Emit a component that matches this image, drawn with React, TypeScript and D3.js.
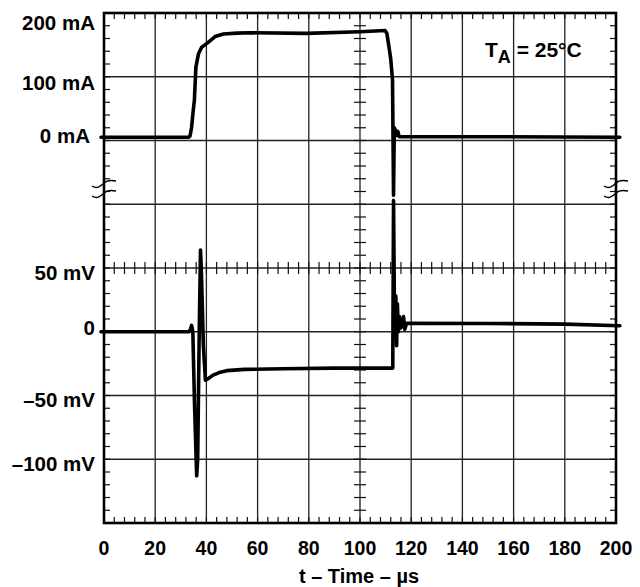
import React from "react";
import * as d3 from "d3";

// ---------- data ----------
const xTickValues = [0, 20, 40, 60, 80, 100, 120, 140, 160, 180, 200];
const currentTickValues = [200, 100, 0];
const currentTickLabels = ["200 mA", "100 mA", "0 mA"];
const voltageTickValues = [50, 0, -50, -100];
const voltageTickLabels = ["50 mV", "0", "\u201350 mV", "\u2013100 mV"];

const timeI = [-1.2, 33, 33.6, 34.2, 34.8, 35.3, 35.9, 36.9, 38.1, 40.7, 43.4, 46.6, 52, 57, 79, 100, 109.8, 110.5, 111.2, 112, 112.7, 113.1, 113.4, 113.9, 114.3, 114.8, 115.3, 150, 201.5];
const currentMA = [5, 5, 7, 20, 45, 63, 115, 136, 146, 154, 163, 167, 168.5, 169, 168, 170.5, 172.5, 168, 150, 128, 95, -86, 20, 16, 8, 14, 6, 6, 5];

const timeV = [-1.2, 33.2, 33.8, 34.2, 34.7, 35.4, 36.2, 36.6, 37.2, 37.7, 38.0, 38.8, 39.6, 40.5, 42.6, 45, 47.9, 55, 70, 90, 112.8, 113.1, 113.4, 113.7, 114.0, 114.3, 114.6, 115.0, 115.4, 116.0, 116.6, 117.0, 117.5, 118.2, 150, 180, 201.5];
const voltageMV = [0, 0, 2, 5, 0, -60, -113, -100, 0, 64, 50, -10, -38, -37, -34, -32, -30.5, -29.5, -29, -28.5, -28.5, 103, 30, -5, 28, -11, 22, 0, 12, 3, 5, 12, 2, 6.7, 6.5, 6, 4.7];

// ---------- layout ----------
const W = 640;
const H = 587;
const L = 104;
const R = 616;
const T = 13;
const B = 523;
const FONT = "'Liberation Sans', Arial, Helvetica, sans-serif";

export default function App() {
  const x = d3.scaleLinear().domain([0, 200]).range([L, R]);
  const yDiv = d3.scaleLinear().domain([0, 8]).range([B, T]);
  const yI = d3.scaleLinear().domain([-600, 200]).range([B, T]);
  const yV = d3.scaleLinear().domain([-150, 250]).range([B, T]);

  const lineI = d3
    .line<number>()
    .x((_, i) => x(timeI[i]))
    .y((d) => yI(d))
    .curve(d3.curveLinear);
  const lineV = d3
    .line<number>()
    .x((_, i) => x(timeV[i]))
    .y((d) => yV(d))
    .curve(d3.curveLinear);

  const gridX = xTickValues.slice(1, -1);
  const gridY = d3.range(1, 8);
  const minorX = d3.range(0, 200.01, 4).filter((v) => v > 0 && v < 200);
  const minorY = d3.range(1, 40).map((k) => k / 5);
  const tl = 6;
  const cy = yDiv(4);
  const cx = x(100);

  const tilde = (px: number, py: number) =>
    `M${px - 12},${py + 2} C${px - 7},${py + 5} ${px - 4},${py + 3} ${px},${py - 1} C${px + 3},${py - 4} ${px + 7},${py - 4} ${px + 12},${py - 3}`;

  const gridColor = "#222";

  return (
    <svg
      width={W}
      height={H}
      viewBox={`0 0 ${W} ${H}`}
      style={{ position: "absolute", left: 0, top: 0, background: "#fff" }}
    >
      <rect x={0} y={0} width={W} height={H} fill="#fff" />
      {/* grid */}
      {gridX.map((v) => (
        <line key={"gx" + v} x1={x(v)} x2={x(v)} y1={T} y2={B} stroke={gridColor} strokeWidth={1.3} />
      ))}
      {gridY.map((v) => (
        <line key={"gy" + v} x1={L} x2={R} y1={yDiv(v)} y2={yDiv(v)} stroke={gridColor} strokeWidth={1.3} />
      ))}
      {/* minor ticks along x */}
      {minorX.map((v) => (
        <g key={"mx" + v} stroke="#111" strokeWidth={1.2}>
          <line x1={x(v)} x2={x(v)} y1={T} y2={T + tl} />
          <line x1={x(v)} x2={x(v)} y1={B} y2={B - tl} />
          <line x1={x(v)} x2={x(v)} y1={cy - tl} y2={cy + tl} />
        </g>
      ))}
      {/* minor ticks along y */}
      {minorY.map((v) => (
        <g key={"my" + v} stroke="#111" strokeWidth={1.2}>
          <line x1={L} x2={L + tl} y1={yDiv(v)} y2={yDiv(v)} />
          <line x1={R} x2={R - tl} y1={yDiv(v)} y2={yDiv(v)} />
          <line x1={cx - tl} x2={cx + tl} y1={yDiv(v)} y2={yDiv(v)} />
        </g>
      ))}
      {/* frame */}
      <rect x={L} y={T} width={R - L} height={B - T} fill="none" stroke="#000" strokeWidth={2.6} />
      {/* break marks */}
      {[L, R].map((px) => (
        <g key={"br" + px} fill="none" stroke="#000" strokeWidth={1.4}>
          <path d={tilde(px, 184)} />
          <path d={tilde(px, 194)} />
        </g>
      ))}
      {/* traces */}
      <path d={lineI(currentMA) || ""} fill="none" stroke="#000" strokeWidth={3.6} strokeLinejoin="round" strokeLinecap="round" />
      <path d={lineV(voltageMV) || ""} fill="none" stroke="#000" strokeWidth={3.6} strokeLinejoin="round" strokeLinecap="round" />

      {/* y labels */}
      <g fontFamily={FONT} fontWeight="bold" fontSize={20.5} fill="#000" textAnchor="end">
        {currentTickValues.map((v, i) => {
          const off = v === 200 ? 9.5 : v === 0 ? -5.5 : 6;
          return (
            <text key={"yl" + v} x={v === 0 ? 90 : 95} y={yI(v) + off} dominantBaseline="central">
              {currentTickLabels[i]}
            </text>
          );
        })}
        {voltageTickValues.map((v, i) => {
          const off = v === 0 ? -4 : 4;
          return (
            <text key={"vl" + v} x={95} y={yV(v) + off} dominantBaseline="central">
              {voltageTickLabels[i]}
            </text>
          );
        })}
      </g>
      {/* x labels */}
      <g fontFamily={FONT} fontWeight="bold" fontSize={19.5} fill="#000" textAnchor="middle">
        {xTickValues.map((v) => (
          <text key={"xl" + v} x={x(v)} y={555}>
            {v}
          </text>
        ))}
        <text x={359} y={583} fontSize={20}>
          t – Time – µs
        </text>
      </g>
      {/* annotation */}
      <text x={485} y={57} fontFamily={FONT} fontWeight="bold" fontSize={21} fill="#000">
        T
        <tspan dy={6} fontSize={18}>A</tspan>
        <tspan dy={-6}> = 25°C</tspan>
      </text>
    </svg>
  );
}
